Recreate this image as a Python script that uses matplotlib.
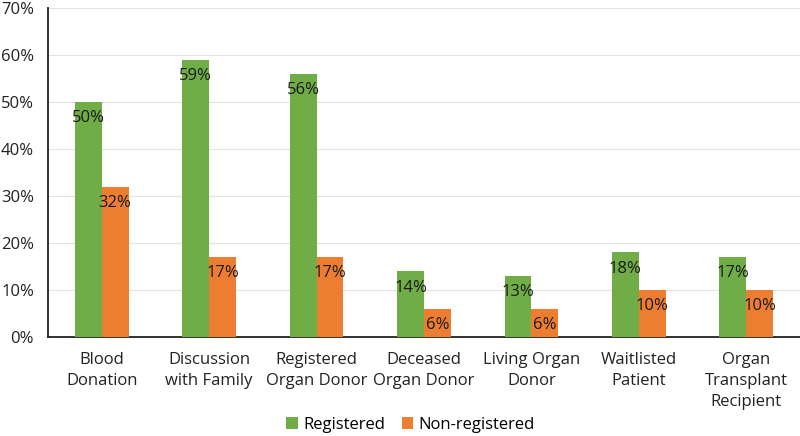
import matplotlib.pyplot as plt
import numpy as np

plt.rcParams['font.family'] = ['Open Sans', 'DejaVu Sans']

categories = ["Blood\nDonation", "Discussion\nwith Family", "Registered\nOrgan Donor",
              "Deceased\nOrgan Donor", "Living Organ\nDonor", "Waitlisted\nPatient",
              "Organ\nTransplant\nRecipient"]
registered = [50, 59, 56, 14, 13, 18, 17]
non_registered = [32, 17, 17, 6, 6, 10, 10]
yticks = [0, 10, 20, 30, 40, 50, 60, 70]

x = np.arange(len(categories))
w = 0.25
fs = 12

fig = plt.figure(figsize=(8, 4.36), dpi=100)
ax = fig.add_axes([0.06, 0.227, 0.94, 0.755])

b1 = ax.bar(x - w / 2, registered, w, color='#70AD47', label='Registered', zorder=3)
b2 = ax.bar(x + w / 2, non_registered, w, color='#ED7D31', label='Non-registered', zorder=3)

for bars in (b1, b2):
    for rect in bars:
        h = rect.get_height()
        ax.annotate(f"{h:.0f}%", (rect.get_x() + rect.get_width() / 2, h),
                    xytext=(0, -6), textcoords='offset points',
                    ha='center', va='top', fontsize=fs, color='#1a1a1a', zorder=4)

ax.set_xlim(-0.5, len(categories) - 0.5)
ax.set_ylim(0, 70)
ax.set_yticks(yticks)
ax.set_yticklabels([f"{t}%" for t in yticks], fontsize=fs, color='#222222')
ax.set_xticks(x)
ax.set_xticklabels(categories, fontsize=fs, color='#222222', linespacing=1.4)
ax.tick_params(length=0)
ax.tick_params(axis='x', pad=11)
ax.tick_params(axis='y', pad=10)

ax.grid(axis='y', color='#E3E3E3', linewidth=0.8, zorder=0)
for s in ('top', 'right'):
    ax.spines[s].set_visible(False)
ax.spines['left'].set_color('#222222')
ax.spines['bottom'].set_color('#222222')
ax.spines['left'].set_linewidth(1.3)
ax.spines['bottom'].set_linewidth(1.3)

fig.legend(loc='lower center', bbox_to_anchor=(0.513, -0.027), ncol=2, frameon=False,
           fontsize=fs, handlelength=0.7, handleheight=0.7, columnspacing=1.0,
           handletextpad=0.3)

fig.savefig("out.png", dpi=100)
